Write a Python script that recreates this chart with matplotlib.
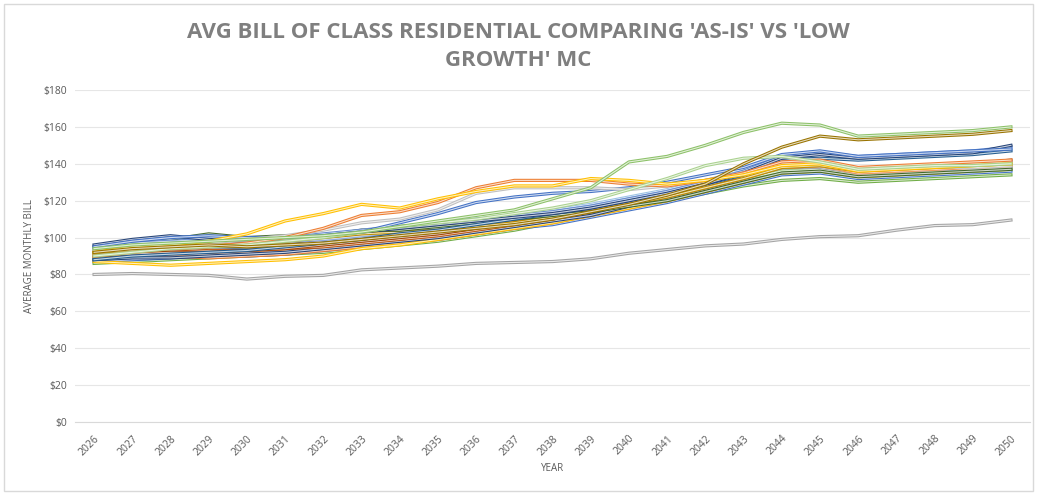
"""
Avg bill of class residential - 'As-Is' vs 'Low Growth' MC runs
"""
import matplotlib.pyplot as plt
from matplotlib.patches import Rectangle

years = list(range(2026, 2051))

# one list per Monte Carlo run (avg monthly bill, $)
run_gray_low = [80, 80.5, 80, 79.5, 77.5, 79, 79.5, 82.5, 83.5, 84.5, 86, 86.5, 87, 88.5, 91.5, 93.5, 95.5, 96.5, 99, 100.5, 101, 104, 106.5, 107, 109.5]
run_green_high = [94, 96, 97, 98, 99, 100, 101, 103, 106, 109, 112, 115, 121, 127, 141, 144, 150, 157, 162, 161, 155, 156, 157, 158, 160]
run_brown_high = [92, 94, 95, 96, 95, 96, 97, 99, 101, 103, 105, 107, 110, 114, 118, 123, 129, 140, 149, 155, 153, 154, 155, 156, 158]
run_green_mid = [90, 92, 94, 95, 96, 98, 100, 103, 106, 108, 110, 113, 116, 120, 126, 132, 139, 143, 144, 141, 137, 138, 139, 139, 140]
run_yellow_high = [92, 95, 96, 98, 102, 109, 113, 118, 116, 121, 125, 128, 128, 132, 131, 129, 131, 134, 139, 140, 136, 137, 138, 139, 140]
run_orange_high = [90, 92, 94, 95, 97, 100, 105, 112, 114, 119, 127, 131, 131, 131, 129, 128, 131, 135, 141, 142, 138, 139, 140, 141, 142]
run_gray_high = [93, 94, 96, 97, 99, 101, 104, 108, 110, 115, 124, 127, 127, 127, 126, 128, 131, 135, 140, 141, 137, 138, 139, 140, 141]
run_blue_high = [95, 98, 100, 101, 100, 100, 101, 103, 108, 113, 119, 122, 124, 125, 127, 130, 134, 138, 145, 147, 144, 145, 146, 147, 148]
run_navy_1 = [96, 99, 101, 99, 98, 99, 101, 103, 105, 107, 109, 111, 113, 116, 120, 124, 129, 135, 143, 145, 143, 144, 145, 146, 150]
run_blue_2 = [94, 97, 98, 99, 98, 100, 102, 104, 106, 108, 110, 112, 114, 117, 121, 125, 130, 136, 144, 146, 144, 145, 146, 147, 149]
run_steel_1 = [88, 90, 91, 92, 93, 95, 97, 99, 102, 104, 107, 110, 113, 116, 120, 124, 129, 134, 142, 143, 142, 143, 144, 145, 147]
run_green_dark = [95, 97, 99, 102, 100, 101, 101, 104, 104, 106, 108, 110, 112, 114, 117, 120, 125, 130, 135, 136, 133, 134, 135, 136, 137]
run_orange_1 = [89, 90, 90, 89, 90, 91, 93, 95, 97, 99, 102, 105, 108, 112, 116, 120, 125, 130, 136, 137, 134, 135, 136, 137, 138]
run_gold_low = [87, 86, 85, 86, 87, 88, 90, 94, 96, 99, 102, 105, 108, 112, 116, 120, 125, 130, 135, 136, 133, 134, 135, 136, 137]
run_sky_1 = [91, 92, 93, 94, 95, 96, 97, 99, 101, 103, 106, 109, 112, 115, 119, 123, 128, 133, 138, 139, 136, 137, 138, 139, 140]
run_rust_1 = [90, 91, 92, 92, 93, 94, 96, 98, 100, 102, 105, 108, 111, 115, 119, 123, 128, 134, 141, 140, 137, 138, 139, 140, 142]
run_charcoal = [92, 93, 94, 95, 95, 96, 98, 100, 102, 104, 107, 110, 113, 116, 120, 124, 129, 134, 140, 141, 137, 138, 139, 140, 141]
run_silver_1 = [89, 91, 92, 93, 94, 95, 97, 99, 101, 103, 105, 108, 111, 114, 118, 122, 127, 132, 137, 138, 134, 135, 136, 137, 138]
run_peach_1 = [93, 95, 96, 97, 99, 100, 101, 102, 103, 105, 107, 110, 113, 116, 120, 124, 129, 133, 138, 139, 135, 136, 137, 138, 139]
run_gold_2 = [91, 93, 94, 95, 96, 97, 99, 101, 104, 105, 107, 109, 112, 115, 119, 123, 128, 133, 139, 140, 136, 137, 138, 139, 140]
run_sky_2 = [88, 89, 90, 91, 92, 93, 95, 97, 99, 101, 104, 107, 110, 114, 118, 122, 127, 131, 136, 137, 133, 134, 135, 136, 137]
run_green_low = [86, 87, 88, 89, 90, 91, 92, 94, 96, 98, 101, 104, 108, 112, 116, 120, 124, 128, 131, 132, 130, 131, 132, 133, 134]
run_blue_low = [87, 88, 89, 90, 90, 91, 93, 95, 97, 99, 102, 105, 107, 111, 115, 119, 124, 129, 134, 135, 132, 133, 134, 135, 136]
run_rust_2 = [90, 91, 92, 93, 93, 94, 95, 97, 99, 101, 104, 107, 110, 114, 118, 122, 127, 132, 138, 139, 136, 137, 138, 139, 140]
run_lav_1 = [92, 94, 95, 96, 97, 98, 99, 101, 103, 105, 108, 111, 114, 117, 121, 125, 130, 135, 140, 141, 137, 138, 139, 139, 141]
run_gray_mid = [90, 92, 93, 94, 95, 96, 98, 100, 102, 104, 106, 109, 112, 115, 119, 123, 128, 133, 138, 138, 135, 136, 137, 138, 139]
run_navy_2 = [88, 89, 89, 90, 91, 92, 94, 96, 98, 100, 103, 106, 109, 112, 117, 121, 126, 131, 137, 138, 135, 136, 137, 138, 139]
run_ice_1 = [93, 94, 95, 96, 97, 98, 100, 102, 104, 106, 109, 112, 115, 118, 122, 126, 131, 136, 139, 139, 135, 136, 137, 137, 138]
run_mint_1 = [91, 93, 94, 95, 95, 96, 98, 101, 104, 106, 108, 111, 113, 116, 120, 124, 128, 132, 136, 137, 134, 135, 136, 136, 137]
run_tan_1 = [89, 90, 91, 91, 92, 94, 96, 98, 101, 103, 106, 109, 112, 115, 119, 123, 128, 133, 137, 138, 134, 135, 136, 137, 138]
run_ash_1 = [94, 95, 96, 97, 97, 99, 101, 104, 106, 107, 109, 111, 113, 116, 120, 124, 129, 134, 139, 140, 136, 137, 138, 138, 139]
run_olive_1 = [92, 93, 95, 96, 96, 98, 100, 102, 103, 104, 106, 108, 111, 114, 118, 122, 127, 132, 138, 139, 136, 137, 138, 139, 140]

runs = [
    (run_sky_2, '#7CAFDD'), (run_green_low, '#70AD47'), (run_blue_low, '#4472C4'),
    (run_orange_1, '#ED7D31'), (run_gold_low, '#FFC000'), (run_silver_1, '#B7B7B7'),
    (run_tan_1, '#F4B183'), (run_navy_2, '#264478'), (run_mint_1, '#A9D18E'),
    (run_gray_mid, '#A5A5A5'), (run_sky_1, '#5B9BD5'), (run_rust_2, '#C55A11'),
    (run_ice_1, '#9DC3E6'), (run_gold_2, '#FFCD33'), (run_peach_1, '#F1975A'),
    (run_charcoal, '#636363'), (run_rust_1, '#9E480E'), (run_lav_1, '#8FAADC'),
    (run_ash_1, '#C9C9C9'), (run_olive_1, '#BF9000'),
    (run_green_dark, '#43682B'), (run_steel_1, '#255E91'), (run_blue_2, '#698ED0'),
    (run_navy_1, '#264478'), (run_blue_high, '#4472C4'), (run_gray_high, '#BFBFBF'),
    (run_orange_high, '#ED7D31'), (run_yellow_high, '#FFC000'), (run_green_mid, '#A9D18E'),
    (run_brown_high, '#997300'), (run_green_high, '#8CC168'), (run_gray_low, '#A5A5A5'),
]

y_ticks = list(range(0, 181, 20))

plt.rcParams['font.family'] = ['Open Sans', 'DejaVu Sans']

fig = plt.figure(figsize=(10.37, 4.94), dpi=100)
ax = fig.add_axes([0.0723, 0.1457, 0.9210, 0.6721])

for vals, col in runs:
    # Excel "double" line look: coloured stroke with a pale core
    ax.plot(years, vals, color=col, lw=2.3)
    ax.plot(years, vals, color='white', lw=0.8, alpha=0.75)

ax.set_xlim(2025.5, 2050.5)
ax.set_ylim(0, 180)
ax.set_yticks(y_ticks)
ax.set_yticklabels([f'${v}' for v in y_ticks])
ax.set_xticks(years)
ax.set_xticklabels([str(y) for y in years], rotation=45, ha='right',
                   rotation_mode='anchor')
ax.tick_params(axis='both', length=0, labelsize=7.5, colors='#595959', pad=6)
ax.tick_params(axis='x', pad=8)
ax.grid(axis='y', color='#E6E6E6', lw=0.8)
ax.set_axisbelow(True)
for s in ['top', 'right', 'left']:
    ax.spines[s].set_visible(False)
ax.spines['bottom'].set_color('#D9D9D9')

ax.set_ylabel('AVERAGE MONTHLY BILL', fontsize=7, color='#595959', labelpad=6)
ax.set_xlabel('YEAR', fontsize=7, color='#595959', labelpad=4)

fig.text(0.5, 0.935, "AVG BILL OF CLASS RESIDENTIAL COMPARING 'AS-IS' VS 'LOW",
         ha='center', va='center', fontsize=16, fontweight='bold', color='#7F7F7F')
fig.text(0.5, 0.877, "GROWTH' MC",
         ha='center', va='center', fontsize=16, fontweight='bold', color='#7F7F7F')

fig.patches.append(Rectangle((0.004, 0.006), 0.992, 0.985, transform=fig.transFigure,
                             fill=False, edgecolor='#D9D9D9', lw=1))

fig.savefig('out.png', dpi=100, facecolor='white')
